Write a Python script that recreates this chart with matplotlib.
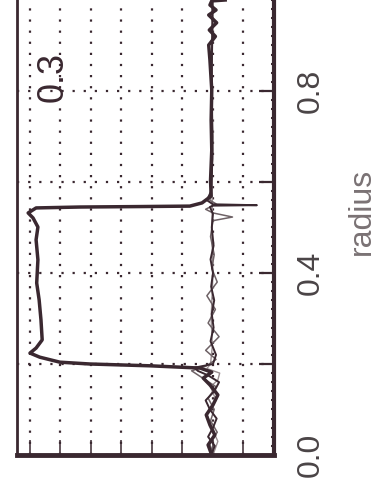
import matplotlib
matplotlib.use("Agg")
import matplotlib.pyplot as plt
from matplotlib.ticker import MultipleLocator, FixedLocator

# profile: value vs radius
# thick curve (step between r ~0.2 and ~0.55)
r_a = [0.000, 0.022, 0.044, 0.066, 0.088, 0.110, 0.132, 0.154, 0.169, 0.182,
       0.191, 0.196, 0.200, 0.204, 0.215, 0.224, 0.235, 0.253, 0.297, 0.341,
       0.378, 0.429, 0.473, 0.501, 0.521, 0.532, 0.543, 0.545, 0.546, 0.547,
       0.554, 0.569, 0.604, 0.670, 0.736, 0.802, 0.868, 0.901, 0.920, 0.934,
       0.950, 0.967, 0.978, 0.989, 0.998, 1.000]
v_a = [0.102, 0.108, 0.097, 0.105, 0.111, 0.100, 0.092, 0.105, 0.116, 0.102,
       0.121, 0.203, 0.302, 0.351, 0.384, 0.400, 0.390, 0.380, 0.382, 0.385,
       0.389, 0.387, 0.390, 0.387, 0.395, 0.403, 0.390, 0.318, 0.220, 0.138,
       0.118, 0.103, 0.104, 0.102, 0.103, 0.102, 0.105, 0.107, 0.096, 0.106,
       0.094, 0.107, 0.095, 0.105, 0.102, 0.080]

# thinner curves following the base level
r_b = [0.000, 0.020, 0.040, 0.060, 0.080, 0.100, 0.120, 0.140, 0.160, 0.175,
       0.185, 0.192, 0.200, 0.220, 0.250, 0.280, 0.310, 0.340, 0.370, 0.400,
       0.430, 0.460, 0.500, 0.530, 0.545, 0.548, 0.549, 0.551, 0.560, 0.580,
       0.650, 0.750, 0.850, 0.950, 1.000]
v_b = [0.103, 0.097, 0.108, 0.100, 0.094, 0.105, 0.112, 0.098, 0.090, 0.108,
       0.125, 0.130, 0.100, 0.095, 0.104, 0.099, 0.102, 0.098, 0.103, 0.100,
       0.104, 0.099, 0.102, 0.100, 0.105, 0.100, 0.028, 0.100, 0.110, 0.103,
       0.101, 0.103, 0.102, 0.101, 0.101]

r_c = [0.000, 0.025, 0.050, 0.075, 0.100, 0.125, 0.150, 0.170, 0.185, 0.195,
       0.210, 0.230, 0.260, 0.290, 0.320, 0.350, 0.380, 0.410, 0.440, 0.480,
       0.515, 0.523, 0.532, 0.540, 0.552, 0.560, 0.600, 0.700, 0.800, 0.900,
       1.000]
v_c = [0.098, 0.106, 0.093, 0.104, 0.098, 0.108, 0.095, 0.118, 0.135, 0.112,
       0.095, 0.112, 0.090, 0.108, 0.096, 0.110, 0.093, 0.102, 0.098, 0.104,
       0.100, 0.068, 0.100, 0.112, 0.095, 0.105, 0.102, 0.100, 0.102, 0.101,
       0.100]

r_d = [0.000, 0.030, 0.060, 0.090, 0.120, 0.150, 0.165, 0.180, 0.190, 0.200,
       0.240, 0.300, 0.400, 0.500, 0.550, 0.600, 1.000]
v_d = [0.100, 0.092, 0.102, 0.110, 0.095, 0.104, 0.092, 0.089, 0.110, 0.104,
       0.101, 0.103, 0.100, 0.102, 0.101, 0.102, 0.101]

value_ticks = [0.05, 0.10, 0.15, 0.20, 0.25, 0.30, 0.35, 0.40]
radius_ticks = [0.0, 0.2, 0.4, 0.6, 0.8]
radius_labels = ['0.0', '', '0.4', '', '0.8']

ink = '#3a2830'
grey = '#6e6266'

fig = plt.figure(figsize=(3.81, 4.93), dpi=100)
ax = fig.add_axes([0.0446, 0.0771, 0.6745, 0.9229])

ax.plot(v_d, r_d, color='#9a8f92', linewidth=1.0)
ax.plot(v_c, r_c, color=grey, linewidth=1.1)
ax.plot(v_b, r_b, color=ink, linewidth=1.4)
ax.plot(v_a, r_a, color=ink, linewidth=2.5)

ax.set_xlim(0.4213, 0.0)
ax.set_ylim(0.0, 1.0)

ax.xaxis.set_major_locator(FixedLocator(value_ticks))
ax.set_xticklabels([])
ax.yaxis.set_major_locator(FixedLocator(radius_ticks))
ax.yaxis.set_minor_locator(MultipleLocator(0.02))
ax.yaxis.tick_right()
ax.set_yticklabels(radius_labels, rotation=90, va='center',
                   family='Liberation Sans', fontsize=23, color='#4a4446')

ax.tick_params(axis='x', direction='in', length=11, width=1.1, color=ink)
ax.tick_params(axis='y', which='major', direction='in', length=11, width=1.6,
               color=ink, pad=16)
ax.tick_params(axis='y', which='minor', direction='in', length=2, width=1.5,
               color=ink)

ax.grid(True, color=ink, linestyle=(0, (1, 4)), linewidth=1.6)

ax.spines['top'].set_visible(False)
ax.spines['left'].set_linewidth(2.0)
ax.spines['bottom'].set_linewidth(3.5)
ax.spines['right'].set_linewidth(3.0)
for s in ('left', 'bottom', 'right'):
    ax.spines[s].set_color(ink)

ax.text(0.362, 0.831, '0.3', rotation=90, ha='center', va='center',
        family='Liberation Sans', fontsize=26, color=ink)
ax.text(1.342, 0.535, 'radius', rotation=90, ha='center', va='center',
        transform=ax.transAxes, family='Liberation Sans', fontsize=23,
        color='#7a7274')

fig.savefig('out.png', dpi=100)
